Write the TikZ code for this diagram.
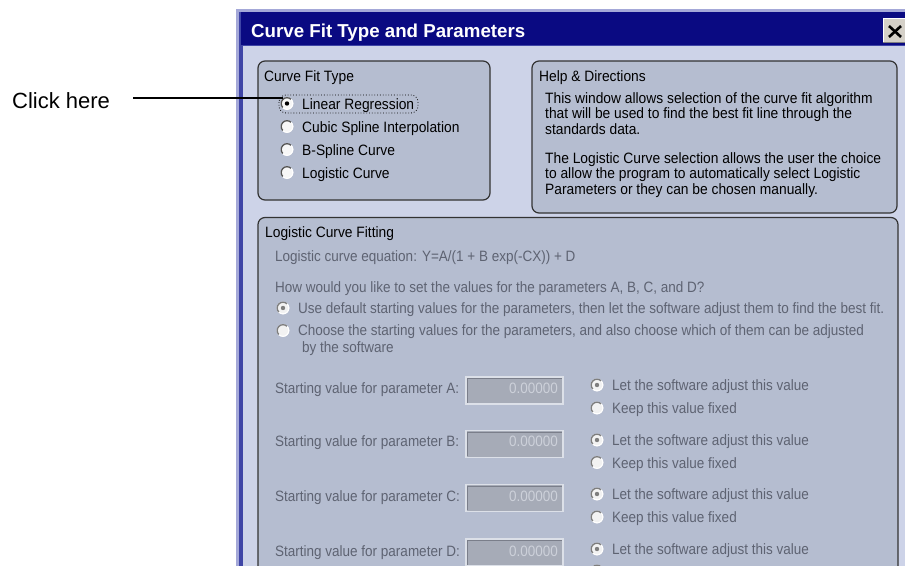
\documentclass[tikz,border=0pt]{standalone}
\usepackage{fontspec}
\setmainfont{Liberation Sans}
\newfontfamily\uifont[FakeStretch=0.92]{Liberation Sans}
\newfontfamily\uidisfont[FakeStretch=0.9]{Liberation Sans}
\definecolor{client}{HTML}{CDD3E8}
\definecolor{boxfill}{HTML}{B5BDD0}
\definecolor{boxedge}{HTML}{333333}
\definecolor{navy}{HTML}{0A0A82}
\definecolor{frameLight}{HTML}{A4A8D8}
\definecolor{frameDark}{HTML}{3F45A6}
\definecolor{distext}{HTML}{5E6372}
\definecolor{inputfill}{HTML}{A6ABB7}
\definecolor{inputlight}{HTML}{DCE0E8}
\definecolor{inputdark}{HTML}{7A7E8A}
\definecolor{valtext}{HTML}{CDD1DA}
\definecolor{btnface}{HTML}{D4D0C8}
\definecolor{radioDark}{HTML}{555555}
\definecolor{radioDis}{HTML}{7E7E7E}
\newcommand\uiradio[4]{% centre, face, edge, dot
  \begin{scope}[shift={(#1)}]
    \fill[#2] (0,0) circle (6.4);
    \draw[#3,line width=1.3] (-45:5.8) arc (-45:-225:5.8);
    \draw[white,line width=1.0] (-45:5.8) arc (-45:135:5.8);
    \path[fill=#4] (0,0) circle (2.2);
  \end{scope}}
\tikzset{
  ui/.style={inner sep=0pt,anchor=base west,font=\uifont\fontsize{15}{18}\selectfont},
  uidis/.style={inner sep=0pt,anchor=base west,text=distext,font=\uidisfont\fontsize{15}{18}\selectfont},
  groupbox/.style={fill=boxfill,draw=boxedge,line width=1.2pt,rounded corners=7pt},
  inputbox/.style={fill=inputfill,draw=inputlight,line width=1.6pt},
  valnode/.style={inner sep=0pt,anchor=base east,text=valtext,font=\uidisfont\fontsize{15}{18}\selectfont},
}
\begin{document}
\begin{tikzpicture}[x=1pt,y=-1pt]
\useasboundingbox (0,0) rectangle (905,565);
\clip (0,0) rectangle (905,565);
\fill[white] (0,0) rectangle (905,565);
% window frame
\fill[frameLight] (236,9) rectangle (910,600);
\fill[frameDark] (239,11.5) rectangle (910,600);
\fill[navy] (241,12) rectangle (910,45);
\fill[client] (243,46) rectangle (910,600);
% title
\node[inner sep=0pt,anchor=base west,text=white,font=\bfseries\fontsize{18.7}{21}\selectfont] (title) at (251,37) {Curve Fit Type and Parameters};
% close button
\fill[btnface] (883,18) rectangle (906,43);
\draw[white,line width=1pt] (883.5,43) -- (883.5,18.5) -- (906,18.5);
\draw[gray,line width=1pt] (883,42.5) -- (906,42.5);
\draw[black,line width=2.6pt] (889,26) -- (901,37) (889,37) -- (901,26);
% group boxes
\draw[groupbox] (258,61) rectangle (490,200);
\draw[groupbox] (532,61) rectangle (897,213);
\draw[groupbox] (258,217.5) rectangle (898,640);
% Curve Fit Type
\node[ui] (cft) at (264,81) {Curve Fit Type};
\uiradio{287,103.5}{white!94!gray}{radioDark}{black}
\uiradio{287,126.5}{white!94!gray}{radioDark}{none}
\uiradio{287,149.5}{white!94!gray}{radioDark}{none}
\uiradio{287,172.5}{white!94!gray}{radioDark}{none}
\node[ui] (lin) at (302,109.5) {Linear Regression};
\node[ui] (cub) at (302,132.5) {Cubic Spline Interpolation};
\node[ui] (bsp) at (302,155.5) {B-Spline Curve};
\node[ui] (logc) at (302,178.5) {Logistic Curve};
\draw[black,dotted,line width=0.8pt,rounded corners=7pt] (279,95) rectangle (418,113);
% Help
\node[ui] (help) at (539,81) {Help \& Directions};
\node[ui] (h1) at (545,103) {This window allows selection of the curve fit algorithm};
\node[ui] (h2) at (545,118.7) {that will be used to find the best fit line through the};
\node[ui] (h3) at (545,134.4) {standards data.};
\node[ui] (h4) at (545,163) {The Logistic Curve selection allows the user the choice};
\node[ui] (h5) at (545,178.7) {to allow the program to automatically select Logistic};
\node[ui] (h6) at (545,194.4) {Parameters or they can be chosen manually.};
% Logistic Curve Fitting
\node[ui] (lcf) at (265,237) {Logistic Curve Fitting};
\node[uidis] (eq) at (275,261) {Logistic curve equation: Y=A/(1 + B exp(-CX)) + D};
\node[uidis] (how) at (275,292) {How would you like to set the values for the parameters A, B, C, and D?};
\uiradio{283,308}{white!90!gray}{radioDis}{radioDis}
\uiradio{283,330.5}{white!90!gray}{radioDis}{none}
\node[uidis] (opt1) at (298,313) {Use default starting values for the parameters, then let the software adjust them to find the best fit.};
\node[uidis] (opt2) at (298,335.5) {Choose the starting values for the parameters, and also choose which of them can be adjusted};
\node[uidis] (opt2b) at (302,352) {by the software};
% parameter rows
\foreach \p/\b/\t/\ra/\rb in {A/393/377/385/408, B/446.5/430.5/440/462.5, C/501/484.5/494/517, D/556.5/539/549/571}{
  \node[uidis] (lab\p) at (275,\b) {Starting value for parameter \p:};
  \draw[inputbox] (466,\t) rectangle (563,\t+27);
  \draw[inputdark,line width=1pt] (467.5,\t+25.5) -- (467.5,\t+1.5) -- (561.5,\t+1.5);
  \node[valnode] (val\p) at (558,\b) {0.00000};
  \uiradio{597,\ra}{white!90!gray}{radioDis}{radioDis}
  \uiradio{597,\rb}{white!90!gray}{radioDis}{none}
  \node[uidis] (let\p) at (612,\ra+5.5) {Let the software adjust this value};
}
\node[uidis] (keepA) at (612,413.5) {Keep this value fixed};
\node[uidis] (keepB) at (612,468) {Keep this value fixed};
\node[uidis] (keepC) at (612,522.5) {Keep this value fixed};
% annotation
\node[inner sep=0pt,anchor=base west,font=\fontsize{22}{25}\selectfont] (click) at (12,108) {Click here};
\coordinate (tgt) at (283,98);
\draw[black,line width=1.3pt,shorten <=23pt] (click.east |- tgt) -- (tgt);
\end{tikzpicture}
\end{document}
